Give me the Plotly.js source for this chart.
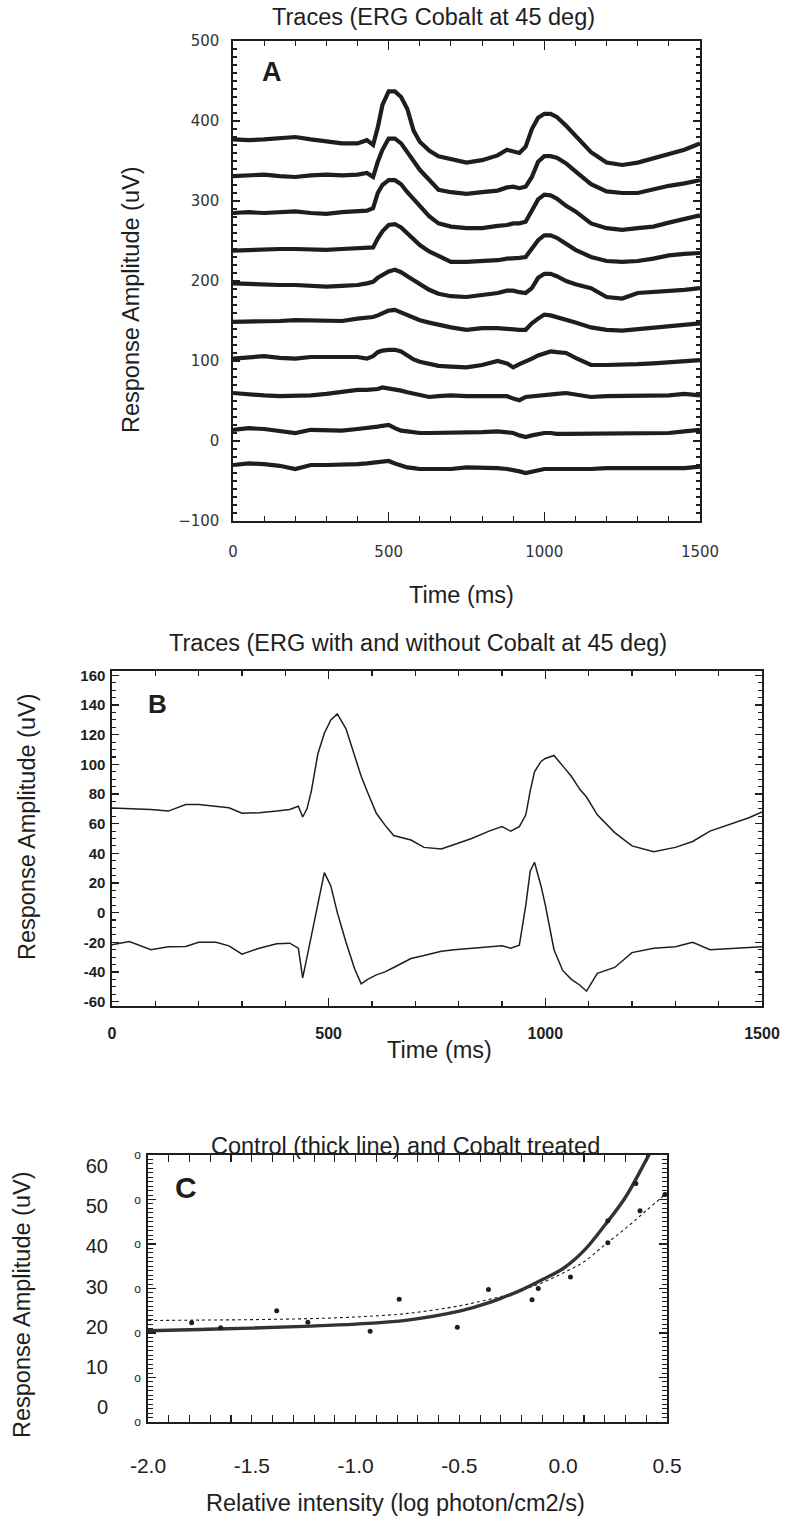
<!DOCTYPE html>
<html>
<head>
<meta charset="utf-8">
<script src="https://cdn.plot.ly/plotly-3.0.1.min.js"></script>
<style>html,body{margin:0;padding:0;background:#fff;}#chart{width:786px;height:1519px;}</style>
</head>
<body>
<div id="chart"></div>
<script>
// ---------- Panel A: ERG traces with cobalt (ms, uV) ----------
const timeA = [0,50,100,150,200,250,300,350,400,430,450,465,480,500,520,540,560,580,600,630,660,700,750,800,850,880,900,920,940,960,980,1000,1020,1040,1070,1100,1150,1200,1250,1300,1350,1400,1450,1500];
const traceA1 = [377,376,377,378,380,377,374,372,372,376,370,392,420,437,437,430,415,388,374,363,356,352,348,351,357,364,362,360,368,390,404,409,409,405,394,382,361,348,345,348,353,358,364,372];
const traceA2 = [331,332,333,331,330,332,333,332,333,335,330,349,364,378,378,372,360,350,339,326,314,311,309,311,313,317,318,316,318,330,349,356,356,354,347,337,321,312,310,310,315,319,322,326];
const traceA3 = [285,286,285,286,287,285,284,286,287,288,291,310,320,326,326,321,311,302,293,281,272,268,266,266,269,270,272,272,274,288,302,308,307,303,294,287,272,266,264,266,268,273,277,282];
const traceA4 = [238,239,239,240,240,239,239,240,241,241,242,253,262,270,271,267,260,252,245,237,231,224,224,225,226,228,228,229,230,240,251,257,257,254,246,239,230,225,224,225,228,232,234,235];
const traceA5 = [197,196,196,195,195,194,193,194,195,197,199,204,208,212,214,211,206,201,196,189,184,181,180,182,185,188,188,186,185,191,204,209,209,206,200,196,191,180,178,185,186,188,189,191];
const traceA6 = [149,149,149,150,151,151,151,150,153,154,155,157,160,163,164,161,158,154,151,148,145,142,139,141,141,140,139,139,139,147,153,158,157,155,152,148,142,139,138,140,142,144,146,147];
const traceA7 = [103,105,106,104,103,105,105,105,105,103,106,111,113,114,114,112,107,102,99,96,94,93,92,95,100,97,92,96,99,103,107,110,112,111,110,104,95,95,95,96,97,98,99,101];
const traceA8 = [60,58,57,56,56,57,59,62,64,64,64,65,67,66,65,63,61,59,57,55,56,57,56,56,57,56,53,51,55,56,56,57,58,59,60,58,55,56,56,56,56,57,59,57];
const traceA9 = [14,16,15,13,10,14,13,13,15,16,17,18,19,20,16,13,12,11,10,10,10,10,10,11,12,11,10,7,5,7,9,10,10,9,9,9,10,10,10,10,10,10,12,14];
const traceA10 = [-30,-28,-29,-31,-35,-30,-30,-30,-29,-28,-27,-27,-26,-25,-28,-31,-33,-34,-35,-35,-35,-35,-33,-33,-34,-35,-36,-38,-40,-38,-36,-35,-35,-35,-36,-36,-35,-34,-34,-35,-35,-35,-34,-32];
const tracesA = [traceA1,traceA2,traceA3,traceA4,traceA5,traceA6,traceA7,traceA8,traceA9,traceA10];
const tickValsA_x = [0,500,1000,1500];

// ---------- Panel B: ERG with and without cobalt ----------
const timeB = [0,40,90,130,170,200,240,270,300,340,380,410,430,440,450,460,475,490,505,520,540,560,575,590,610,630,650,690,720,760,790,830,870,900,920,940,955,965,975,990,1000,1020,1040,1060,1080,1095,1120,1160,1200,1250,1300,1340,1380,1440,1470,1500];
const traceB1 = [70.5,70.3,69.6,68.5,72.9,72.9,71.8,70.7,67,67.4,68.5,69.6,71.8,64.5,70,82,107,121,130,134,124,105,92,81,67,59,52,49,44,43,46,50,55,58,55,58,66,82,95,102,104,106,99,92,83,78,66,54,45,41,44,48,55,61,64,68];
const traceB2 = [-21.7,-19.5,-25,-23,-22.8,-20,-20,-22.4,-28,-24,-21,-20.6,-24,-44,-30,-16,5,27,18,0,-20,-38,-48,-45,-42,-40,-37,-31,-29,-26,-25,-24,-23,-22.4,-24,-22,5,28,34,18,5,-25,-39,-45,-49,-53,-41,-37,-27,-24,-23,-20,-25,-24,-23,-23];
const tickValsB_y = [-60,-40,-20,0,20,40,60,80,100,120,140,160];
const tickTextB_y = ['-60','-40','-20','0','20','40','60','80','100','120','140','160'];

// ---------- Panel C: intensity-response ----------
const intensityC = [-1.79,-1.65,-1.38,-1.23,-0.93,-0.79,-0.51,-0.36,-0.15,-0.12,0.035,0.215,0.215,0.35,0.37,0.49];
const amplitudeC = [22.3,21.2,25.0,22.4,20.4,27.6,21.3,29.8,27.5,30.0,32.6,40.3,45.2,53.6,47.5,51.1];
const fitXControl = [-2.0,-1.75,-1.5,-1.25,-1.0,-0.75,-0.5,-0.4,-0.3,-0.2,-0.1,0.0,0.1,0.2,0.3,0.4,0.43];
const fitYControl = [20.5,20.8,21.1,21.5,22.0,22.9,24.9,26.2,27.8,29.7,32.0,34.5,38.5,44.2,50.5,58.9,61.5];
const fitXCobalt = [-2.0,-1.75,-1.5,-1.25,-1.0,-0.75,-0.5,-0.4,-0.3,-0.2,-0.1,0.0,0.1,0.2,0.3,0.4,0.5];
const fitYCobalt = [22.8,22.9,23.0,23.2,23.6,24.4,26.1,27.1,28.2,29.6,31.3,33.5,36.0,39.8,43.5,47.5,51.5];
const tickValsC_x = [-2.0,-1.5,-1.0,-0.5,0.0,0.5];
const tickTextC_x = ['-2.0','-1.5','-1.0','-0.5','0.0','0.5'];
const tickValsC_y = [0,10,20,30,40,50,60];

// ---------- build ----------
const W = 786, H = 1519;
const px = x => x / W;
const py = y => 1 - y / H;
const INK = '#1e1e1e';
const FONT = 'Liberation Sans, Arial, sans-serif';

const data = [];
tracesA.forEach(v => data.push({
  x: timeA, y: v, xaxis: 'x', yaxis: 'y', type: 'scatter', mode: 'lines',
  line: {color: INK, width: 4.2}, hoverinfo: 'skip'
}));
[traceB1, traceB2].forEach(v => data.push({
  x: timeB, y: v, xaxis: 'x2', yaxis: 'y2', type: 'scatter', mode: 'lines',
  line: {color: INK, width: 1.5}, hoverinfo: 'skip'
}));
data.push({x: fitXCobalt, y: fitYCobalt, xaxis: 'x3', yaxis: 'y3', type: 'scatter', mode: 'lines',
  line: {color: INK, width: 1.1, dash: 'dot', shape: 'spline'}});
data.push({x: fitXControl, y: fitYControl, xaxis: 'x3', yaxis: 'y3', type: 'scatter', mode: 'lines',
  line: {color: '#333', width: 3.4, shape: 'spline'}});
data.push({x: intensityC, y: amplitudeC, xaxis: 'x3', yaxis: 'y3', type: 'scatter', mode: 'markers',
  marker: {color: INK, size: 5}});
data.push({x: [], y: [], xaxis: 'x3', yaxis: 'y4', type: 'scatter', mode: 'lines'});

function frame(extra) {
  return Object.assign({
    showline: true, linecolor: INK, linewidth: 1.6, mirror: 'allticks',
    ticks: 'inside', tickcolor: INK, tickwidth: 1.2, showgrid: false, zeroline: false,
    fixedrange: true
  }, extra);
}
const minorTicks = (d, len) => ({dtick: d, ticklen: len, ticks: 'inside', tickcolor: INK, tickwidth: 1.1});

const layout = {
  width: W, height: H, margin: {l: 0, r: 0, t: 0, b: 0},
  paper_bgcolor: '#fff', plot_bgcolor: '#fff', showlegend: false,
  font: {family: FONT, color: INK},
  xaxis: frame({domain: [px(233), px(700)], anchor: 'y', range: [0, 1500],
    tickvals: tickValsA_x, ticklen: 9, minor: minorTicks(100, 5),
    tickfont: {family: 'DejaVu Sans, sans-serif', size: 15, color: '#333'}, ticklabelstandoff: 16}),
  yaxis: frame({domain: [py(521), py(41)], anchor: 'x', range: [-100, 500], dtick: 100, ticklen: 7,
    minor: minorTicks(10, 4),
    tickfont: {family: 'DejaVu Sans, sans-serif', size: 15, color: '#333'}, ticklabelstandoff: 9}),
  xaxis2: frame({domain: [px(112), px(762)], anchor: 'y2', range: [0, 1500],
    tickvals: [0, 500, 1000, 1500], ticklen: 8, minor: minorTicks(100, 5),
    tickfont: {family: FONT, size: 16, color: INK, weight: 'bold'}, ticklabelstandoff: 12}),
  yaxis2: frame({domain: [py(1006), py(671)], anchor: 'x2', range: [-63, 163],
    tickvals: tickValsB_y, ticktext: tickTextB_y, ticklen: 7,
    minor: minorTicks(5, 4),
    tickfont: {family: FONT, size: 15, color: INK, weight: 'bold'}, ticklabelstandoff: 2}),
  xaxis3: frame({domain: [px(148), px(667)], anchor: 'y3', range: [-2, 0.5],
    tickvals: tickValsC_x, ticktext: tickTextC_x, ticklen: 7,
    minor: minorTicks(0.1, 4),
    tickfont: {family: FONT, size: 21, color: INK}, ticklabelstandoff: 24}),
  yaxis3: frame({domain: [py(1422), py(1155)], anchor: 'x3', range: [0, 60],
    tickvals: tickValsC_y, ticktext: tickValsC_y.map(() => 'o'), ticklen: 8,
    minor: minorTicks(1, 5),
    tickfont: {family: FONT, size: 12, color: INK}, ticklabelstandoff: 3}),
  yaxis4: {overlaying: 'y3', anchor: 'free', position: px(108), side: 'left',
    range: [-3.73, 62.74], tickvals: tickValsC_y, showline: false, ticks: '',
    showgrid: false, zeroline: false, tickfont: {family: FONT, size: 20, color: INK}, fixedrange: true},
  annotations: [
    {text: 'Traces (ERG Cobalt at 45 deg)', x: px(433), y: py(17), size: 23.5},
    {text: 'Response Amplitude (uV)', x: px(131), y: py(300), size: 23.5, angle: -90},
    {text: 'Time (ms)', x: px(461), y: py(595), size: 23.5},
    {text: 'A', x: px(272), y: py(72), size: 27, bold: true},
    {text: 'Traces (ERG with and without Cobalt at 45 deg)', x: px(418), y: py(643), size: 23.5},
    {text: 'Response Amplitude (uV)', x: px(27), y: py(827), size: 23.5, angle: -90},
    {text: 'Time (ms)', x: px(439), y: py(1050), size: 23.5},
    {text: 'B', x: px(157), y: py(704), size: 26, bold: true},
    {text: 'Control (thick line) and Cobalt treated', x: px(405), y: py(1146), size: 23.5},
    {text: 'Response Amplitude (uV)', x: px(22), y: py(1305), size: 23.5, angle: -90},
    {text: 'Relative intensity (log photon/cm2/s)', x: px(395), y: py(1503), size: 23.5},
    {text: 'C', x: px(186), y: py(1187), size: 30, bold: true}
  ].map(a => ({
    text: a.bold ? '<b>' + a.text + '</b>' : a.text,
    x: a.x, y: a.y, xref: 'paper', yref: 'paper', xanchor: 'center', yanchor: 'middle',
    showarrow: false, textangle: a.angle || 0,
    font: {family: FONT, size: a.size, color: INK}
  }))
};

Plotly.newPlot('chart', data, layout, {staticPlot: true, displayModeBar: false});
</script>
</body>
</html>
